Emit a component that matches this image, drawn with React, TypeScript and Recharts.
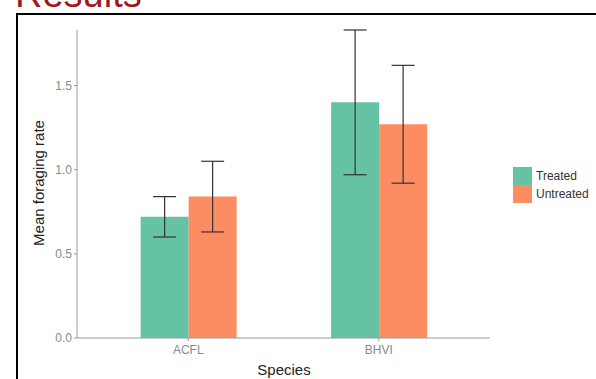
import React from 'react';
import { BarChart, Bar, XAxis, YAxis, ErrorBar } from 'recharts';

const species = ['ACFL', 'BHVI'];
const treatedMean = [0.72, 1.4];
const treatedErr = [0.12, 0.43];
const untreatedMean = [0.84, 1.27];
const untreatedErr = [0.21, 0.35];
const yTicks = [0, 0.5, 1.0, 1.5];

const seriesInfo = [
  { key: 'treated', label: 'Treated', color: '#66c2a5' },
  { key: 'untreated', label: 'Untreated', color: '#fc8d62' },
];

const chartData = species.map((s, i) => ({
  species: s,
  treated: treatedMean[i],
  treatedErr: treatedErr[i],
  untreated: untreatedMean[i],
  untreatedErr: untreatedErr[i],
}));

const font = '"Liberation Sans", Arial, sans-serif';

const App: React.FC = () => {
  return (
    <div style={{ position: 'absolute', left: 0, top: 0, width: 596, height: 379, overflow: 'hidden', background: '#fff' }}>
      {/* cut-off slide title */}
      <div
        style={{
          position: 'absolute',
          left: 15,
          top: -26,
          fontFamily: font,
          fontSize: 38,
          color: '#9e1a1a',
          lineHeight: '40px',
        }}
      >
        Results
      </div>
      {/* frame of the pasted image */}
      <div style={{ position: 'absolute', left: 16, top: 13, width: 600, height: 400, borderLeft: '2px solid #000', borderTop: '2px solid #000' }} />

      <div style={{ position: 'absolute', left: 0, top: 0 }}>
        <BarChart
          width={596}
          height={379}
          data={chartData}
          margin={{ top: 30, right: 106, left: 0, bottom: 0 }}
          barCategoryGap="25%"
          barGap={0}
        >
          <XAxis
            dataKey="species"
            height={41}
            padding={{ left: 16, right: 16 }}
            stroke="#9a9a9a"
            tickSize={3}
            tickMargin={4}
            tick={{ fill: '#8a8a8a', fontSize: 12, fontFamily: font }}
          />
          <YAxis
            width={77}
            domain={[0, 1.83]}
            ticks={yTicks}
            allowDataOverflow
            tickFormatter={(v: number) => v.toFixed(1)}
            stroke="#9a9a9a"
            tickSize={3}
            tickMargin={2}
            tick={{ fill: '#8a8a8a', fontSize: 12, fontFamily: font }}
          />
          <Bar dataKey="treated" name="Treated" fill="#66c2a5" isAnimationActive={false}>
            <ErrorBar dataKey="treatedErr" width={11.5} stroke="#333" strokeWidth={1.2} />
          </Bar>
          <Bar dataKey="untreated" name="Untreated" fill="#fc8d62" isAnimationActive={false}>
            <ErrorBar dataKey="untreatedErr" width={11.5} stroke="#333" strokeWidth={1.2} />
          </Bar>
        </BarChart>
      </div>

      {/* legend, stacked squares like ggplot */}
      <div style={{ position: 'absolute', left: 513, top: 167, fontFamily: font, fontSize: 12, color: '#333' }}>
        {seriesInfo.map((s) => (
          <div key={s.key} style={{ display: 'flex', alignItems: 'center', height: 18 }}>
            <span style={{ width: 19, height: 18, background: s.color, display: 'inline-block' }} />
            <span style={{ marginLeft: 4 }}>{s.label}</span>
          </div>
        ))}
      </div>

      {/* axis titles */}
      <div
        style={{
          position: 'absolute',
          left: 38,
          top: 183,
          transform: 'translate(-50%, -50%) rotate(-90deg)',
          whiteSpace: 'nowrap',
          fontFamily: font,
          fontSize: 15,
          color: '#222',
        }}
      >
        Mean foraging rate
      </div>
      <div
        style={{
          position: 'absolute',
          left: 284,
          top: 369,
          transform: 'translate(-50%, -50%)',
          whiteSpace: 'nowrap',
          fontFamily: font,
          fontSize: 15,
          color: '#222',
        }}
      >
        Species
      </div>
    </div>
  );
};

export default App;
